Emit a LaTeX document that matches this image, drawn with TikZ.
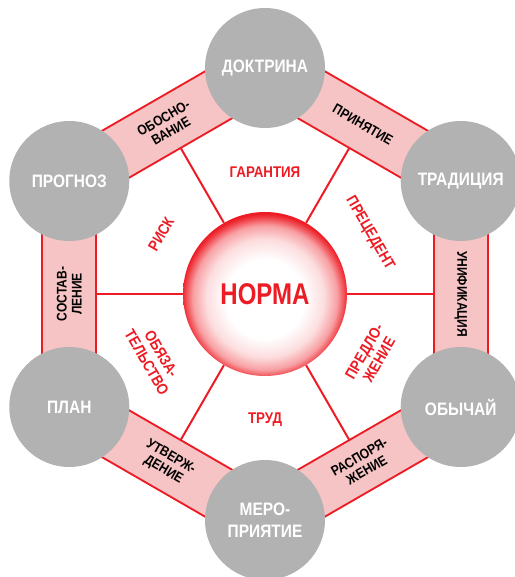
\documentclass[tikz,border=0pt]{standalone}
\usepackage{fontspec}
\setmainfont{Liberation Sans}[FakeStretch=0.86]
\newfontfamily\normafont{Liberation Sans}[FakeStretch=0.8]
\usetikzlibrary{positioning,calc}

\definecolor{normared}{RGB}{237,28,36}
\definecolor{bandpink}{RGB}{246,196,196}
\definecolor{hubgray}{RGB}{178,178,178}

\pgfdeclarelayer{background}
\pgfsetlayers{background,main}

\pgfdeclareradialshading{normaball}{\pgfpoint{0bp}{-2bp}}{color(0bp)=(white); color(12bp)=(white); color(18bp)=(normared!15); color(22bp)=(normared!42); color(24.5bp)=(normared!85); color(25.5bp)=(normared); color(50bp)=(normared)}

\begin{document}
\begin{tikzpicture}[
    hub/.style={circle, fill=hubgray, minimum size=120pt, inner sep=0pt, text=white, align=center, font=\fontsize{18}{22}\selectfont\bfseries},
    band/.style={draw=normared, line width=2pt, double=bandpink, double distance=52pt},
    spoke/.style={draw=normared, line width=2pt},
    bandlabel/.style={align=center, text=black, font=\fontsize{14}{15}\selectfont\bfseries},
    sector/.style={align=center, text=normared, font=\fontsize{15.5}{17}\selectfont\bfseries}
]
\useasboundingbox (-265pt,-283pt) rectangle (249pt,294pt);

% Centre
\node[circle, minimum size=164pt, inner sep=0pt, shading=normaball, text=normared, font=\normafont\fontsize{30}{30}\selectfont\bfseries] (norma) at (0,0) {НОРМА};

% Outer ring
\node[hub] (doktrina) at (90:226pt) {ДОКТРИНА};
\node[hub] (tradicia) at (30:226pt) {ТРАДИЦИЯ};
\node[hub] (obychai) at (-30:226pt) {ОБЫЧАЙ};
\node[hub] (meropr) at (-90:226pt) {МЕРО-\\ПРИЯТИЕ};
\node[hub] (plan) at (-150:226pt) {ПЛАН};
\node[hub] (prognoz) at (150:226pt) {ПРОГНОЗ};

% Bands between the ring nodes
\begin{pgfonlayer}{background}
\draw[band] (prognoz.center) -- node[bandlabel, rotate=30] (obosn) {ОБОСНО-\\ВАНИЕ} (doktrina.center);
\draw[band] (doktrina.center) -- node[bandlabel, rotate=-30] (prinyat) {ПРИНЯТИЕ} (tradicia.center);
\draw[band] (tradicia.center) -- node[bandlabel, rotate=-90] (unific) {УНИФИКАЦИЯ} (obychai.center);
\draw[band] (obychai.center) -- node[bandlabel, rotate=30] (rasp) {РАСПОРЯ-\\ЖЕНИЕ} (meropr.center);
\draw[band] (meropr.center) -- node[bandlabel, rotate=-30] (utv) {УТВЕРЖ-\\ДЕНИЕ} (plan.center);
\draw[band] (plan.center) -- node[bandlabel, rotate=90] (sost) {СОСТАВ-\\ЛЕНИЕ} (prognoz.center);
\end{pgfonlayer}

% Spokes
\foreach \a in {0,60,...,300}
    \coordinate (rim\a) at (\a:169pt);
\foreach \a in {0,60,...,300}
    \draw[spoke] (norma) -- (rim\a);

% Sector labels
\node[sector] (garantia) at (90:122pt) {ГАРАНТИЯ};
\node[sector, rotate=-60] (precedent) at (30:121pt) {ПРЕЦЕДЕНТ};
\node[sector, rotate=60] (risk) at (150:120pt) {РИСК};
\node[sector, rotate=-60] (obyaz) at (210:128pt) {ОБЯЗА-\\ТЕЛЬСТВО};
\node[sector, rotate=60] (predlo) at (330:123pt) {ПРЕДЛО-\\ЖЕНИЕ};
\node[sector] (trud) at (270:126pt) {ТРУД};

\end{tikzpicture}
\end{document}
